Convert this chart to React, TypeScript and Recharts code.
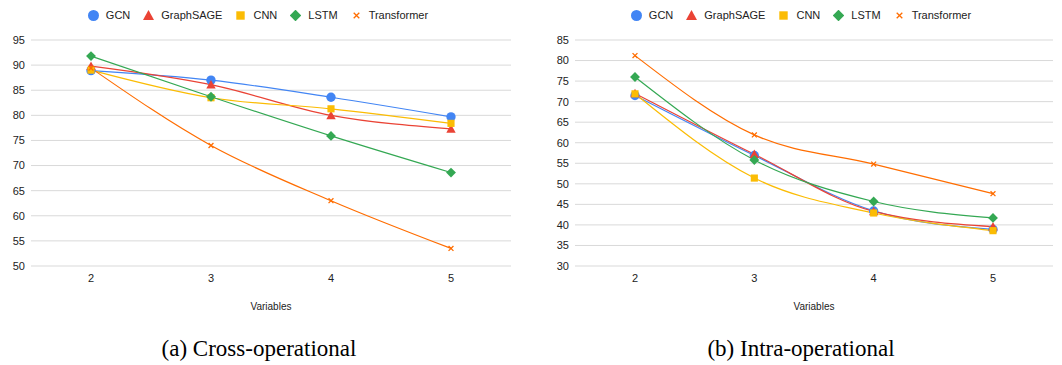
import React from 'react'
import { LineChart, Line, XAxis, YAxis, CartesianGrid } from 'recharts'

const variables = ['2', '3', '4', '5']
const seriesNames = ['GCN', 'GraphSAGE', 'CNN', 'LSTM', 'Transformer']
const seriesColors = ['#4285f4', '#ea4335', '#fbbc04', '#34a853', '#ff6d01']
const seriesShapes = ['circle', 'triangle', 'square', 'diamond', 'cross']

// (a) Cross-operational
const crossGcn = [88.9, 87.0, 83.6, 79.7]
const crossSage = [89.8, 86.1, 80.0, 77.3]
const crossCnn = [89.0, 83.5, 81.3, 78.4]
const crossLstm = [91.8, 83.7, 75.9, 68.6]
const crossTransformer = [89.4, 74.0, 63.0, 53.5]
const crossTicks = [50, 55, 60, 65, 70, 75, 80, 85, 90, 95]

// (b) Intra-operational
const intraGcn = [71.5, 56.9, 43.4, 38.9]
const intraSage = [72.0, 57.2, 43.3, 39.6]
const intraCnn = [71.9, 51.4, 42.9, 38.6]
const intraLstm = [76.0, 55.8, 45.7, 41.7]
const intraTransformer = [81.2, 61.9, 54.8, 47.6]
const intraTicks = [30, 35, 40, 45, 50, 55, 60, 65, 70, 75, 80, 85]

const sans = "'Liberation Sans', Arial, sans-serif"
const serif = "'Liberation Serif', 'Times New Roman', serif"

function Marker({ shape, color, x, y, s }: { shape: string; color: string; x: number; y: number; s: number }) {
  if (shape === 'circle') return <circle cx={x} cy={y} r={s * 0.55} fill={color} />
  if (shape === 'triangle')
    return <polygon points={`${x},${y - s * 0.55} ${x + s * 0.55},${y + s * 0.45} ${x - s * 0.55},${y + s * 0.45}`} fill={color} />
  if (shape === 'square') return <rect x={x - s * 0.42} y={y - s * 0.42} width={s * 0.84} height={s * 0.84} fill={color} />
  if (shape === 'diamond')
    return <polygon points={`${x},${y - s * 0.58} ${x + s * 0.58},${y} ${x},${y + s * 0.58} ${x - s * 0.58},${y}`} fill={color} />
  const d = s * 0.35
  return (
    <path d={`M${x - d},${y - d}L${x + d},${y + d}M${x + d},${y - d}L${x - d},${y + d}`} stroke={color} strokeWidth={1.3} fill="none" />
  )
}

const makeDot = (shape: string, color: string) => (props: any) => {
  const { cx, cy, index } = props
  if (cx == null || cy == null) return <g key={index} />
  return (
    <g key={index}>
      <Marker shape={shape} color={color} x={cx} y={cy} s={shape === 'cross' ? 7 : 8.5} />
    </g>
  )
}

function shapeSize(shape: string) {
  return shape === 'cross' ? 8 : 10
}

function LegendRow({ center }: { center: number }) {
  return (
    <div
      style={{
        position: 'absolute', top: 9, left: center - 200, width: 400,
        display: 'flex', justifyContent: 'center', alignItems: 'center',
        fontFamily: sans, fontSize: 11, color: '#222',
      }}
    >
      {seriesNames.map((n, i) => (
        <div key={n} style={{ display: 'flex', alignItems: 'center', marginRight: i < 4 ? 13 : 0 }}>
          <svg width={11} height={11} style={{ marginRight: 7 }}>
            <Marker shape={seriesShapes[i]} color={seriesColors[i]} x={5.5} y={5.5} s={shapeSize(seriesShapes[i])} />
          </svg>
          <span>{n}</span>
        </div>
      ))}
    </div>
  )
}

function Panel({
  values, ticks, plotLeft, marginRight, legendCenter, captionCenter, caption,
}: {
  values: number[][]; ticks: number[]; plotLeft: number; marginRight: number
  legendCenter: number; captionCenter: number; caption: string
}) {
  const data = variables.map((v, i) => {
    const row: any = { v }
    seriesNames.forEach((n, j) => { row[n] = values[j][i] })
    return row
  })
  return (
    <div style={{ position: 'relative', width: 531, height: 365 }}>
      <LegendRow center={legendCenter} />
      <LineChart width={531} height={320} data={data} margin={{ top: 40, right: marginRight, bottom: 4, left: 0 }}>
        <CartesianGrid vertical={false} stroke="#d9d9d9" />
        <XAxis
          dataKey="v"
          padding={{ left: 60, right: 60 }}
          axisLine={false}
          tickLine={false}
          tickSize={6}
          height={50}
          tick={{ fill: '#222', fontSize: 11, fontFamily: sans }}
          label={{ value: 'Variables', position: 'insideBottom', offset: 6, fill: '#222', fontSize: 10, fontFamily: sans }}
        />
        <YAxis
          width={plotLeft}
          domain={[ticks[0], ticks[ticks.length - 1]]}
          ticks={ticks}
          interval={0}
          axisLine={false}
          tickLine={false}
          tickSize={4}
          tick={{ fill: '#222', fontSize: 11, fontFamily: sans }}
        />
        {seriesNames.map((n, j) => (
          <Line
            key={n}
            dataKey={n}
            type="monotone"
            stroke={seriesColors[j]}
            strokeWidth={1.2}
            dot={makeDot(seriesShapes[j], seriesColors[j])}
            activeDot={false}
            isAnimationActive={false}
          />
        ))}
      </LineChart>
      <div
        style={{
          position: 'absolute', top: 336, left: captionCenter - 150, width: 300,
          textAlign: 'center', fontFamily: serif, fontSize: 23, color: '#000', lineHeight: '26px',
        }}
      >
        {caption}
      </div>
    </div>
  )
}

export default function App() {
  return (
    <div style={{ display: 'flex', width: 1062, height: 365, background: '#fff' }}>
      <style>{'body{margin:0;background:#fff}'}</style>
      <Panel
        values={[crossGcn, crossSage, crossCnn, crossLstm, crossTransformer]}
        ticks={crossTicks}
        plotLeft={31}
        marginRight={20}
        legendCenter={258}
        captionCenter={259}
        caption="(a) Cross-operational"
      />
      <Panel
        values={[intraGcn, intraSage, intraCnn, intraLstm, intraTransformer]}
        ticks={intraTicks}
        plotLeft={44}
        marginRight={9}
        legendCenter={270}
        captionCenter={270}
        caption="(b) Intra-operational"
      />
    </div>
  )
}
